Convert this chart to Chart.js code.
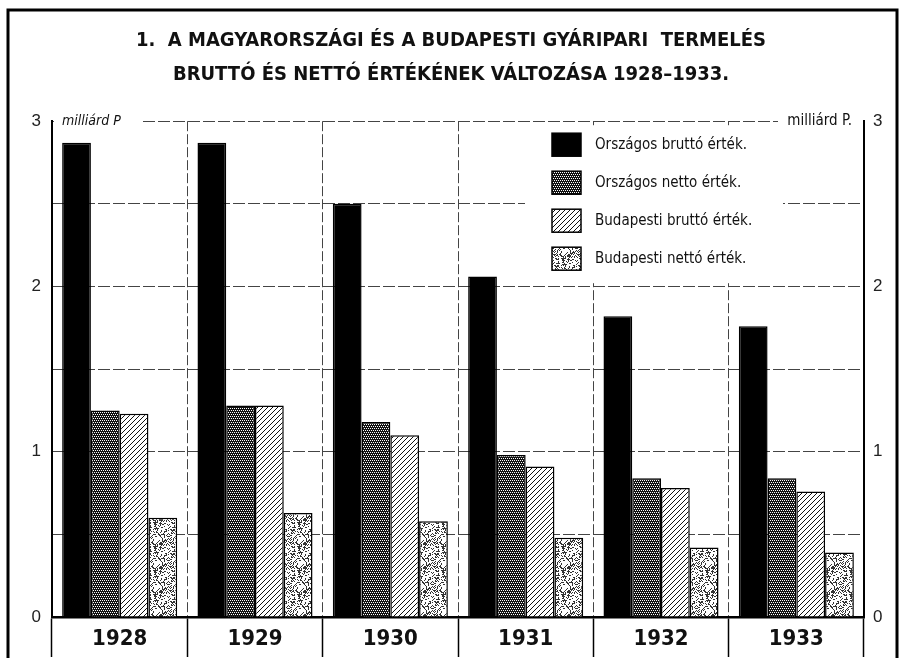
<!DOCTYPE html>
<html>
<head>
<meta charset="utf-8">
<script src="https://cdn.jsdelivr.net/npm/chart.js@4.4.1/dist/chart.umd.min.js"></script>
<style>
  html, body { margin: 0; padding: 0; background: #fff; }
</style>
</head>
<body>
<canvas id="termeles" width="902" height="658"></canvas>
<script>
// data (milliárd pengő)
const years = ["1928", "1929", "1930", "1931", "1932", "1933"];
const orszagosBrutto = [2.87, 2.87, 2.50, 2.06, 1.82, 1.76];
const orszagosNetto = [1.25, 1.28, 1.18, 0.98, 0.84, 0.84];
const budapestiBrutto = [1.23, 1.28, 1.10, 0.91, 0.78, 0.76];
const budapestiNetto = [0.60, 0.63, 0.58, 0.48, 0.42, 0.39];
const seriesNames = ["Országos bruttó érték.", "Országos netto érték.", "Budapesti bruttó érték.", "Budapesti nettó érték."];
const yTickLabels = [0, 1, 2, 3];

const narrow = '"Liberation Sans Narrow", "DejaVu Sans Condensed", "Arial Narrow", sans-serif';

function makePattern(size, paint) {
    const c = document.createElement("canvas");
    c.width = size;
    c.height = size;
    const g = c.getContext("2d");
    paint(g, size);
    return g.createPattern(c, "repeat");
}

// dark halftone (Országos netto)
const checker = makePattern(4, function (g) {
    g.fillStyle = "#111";
    g.fillRect(0, 0, 4, 4);
    g.fillStyle = "#fff";
    [[0, 0], [2, 0], [1, 2], [3, 2]].forEach(function (p) { g.fillRect(p[0], p[1], 1, 1); });
});

// diagonal lines (Budapesti bruttó)
const hatch = makePattern(5, function (g, s) {
    g.fillStyle = "#fff";
    g.fillRect(0, 0, s, s);
    g.strokeStyle = "#111";
    g.lineWidth = 1;
    g.beginPath();
    g.moveTo(0, s); g.lineTo(s, 0);
    g.moveTo(-1, 1); g.lineTo(1, -1);
    g.moveTo(s - 1, s + 1); g.lineTo(s + 1, s - 1);
    g.stroke();
});

// speckle (Budapesti nettó) - hashed pixel texture
const stipple = makePattern(24, function (g, s) {
    g.fillStyle = "#fff";
    g.fillRect(0, 0, s, s);
    g.fillStyle = "#333";
    for (let x = 0; x < s; x++) {
        for (let y = 0; y < s; y++) {
            const h = Math.abs(((x * 73856093) ^ (y * 19349663)) | 0) % 100;
            if (h < 34) g.fillRect(x, y, 1, 1);
        }
    }
});

const fills = ["#000", checker, hatch, stipple];
const seriesData = [orszagosBrutto, orszagosNetto, budapestiBrutto, budapestiNetto];

const decor = {
    id: "decor",
    beforeDraw(chart) {
        const ctx = chart.ctx;
        ctx.save();
        ctx.fillStyle = "#fff";
        ctx.fillRect(0, 0, chart.width, chart.height);
        ctx.strokeStyle = "#000";
        ctx.lineWidth = 3;
        ctx.strokeRect(8, 10, 889, 700);
        ctx.restore();
    },
    afterDraw(chart) {
        const ctx = chart.ctx;
        const a = chart.chartArea;
        ctx.save();

        // units at the top of both axes
        ctx.fillStyle = "#fff";
        ctx.fillRect(a.left + 2, a.top - 8, 86, 16);
        ctx.fillRect(a.right - 86, a.top - 8, 84, 16);
        ctx.fillStyle = "#111";
        ctx.textBaseline = "middle";
        ctx.font = "italic 14px " + narrow;
        ctx.textAlign = "left";
        ctx.fillText("milliárd P", a.left + 10, a.top);
        ctx.font = "15px " + narrow;
        ctx.textAlign = "right";
        ctx.fillText("milliárd P.", a.right - 12, a.top);

        // legend
        const lx = a.right - 312;
        const ly = a.top + 12;
        ctx.fillStyle = "#fff";
        ctx.fillRect(a.right - 339, a.top + 4, 258, 158);
        ctx.font = "15px " + narrow;
        ctx.textAlign = "left";
        chart.data.datasets.forEach(function (ds, i) {
            const y = ly + i * 38;
            ctx.fillStyle = ds.backgroundColor;
            ctx.fillRect(lx, y, 29, 23);
            ctx.strokeStyle = "#000";
            ctx.lineWidth = 1.5;
            ctx.strokeRect(lx, y, 29, 23);
            ctx.fillStyle = "#111";
            ctx.fillText(ds.label, lx + 43, y + 12);
        });
        ctx.restore();
    }
};

new Chart(document.getElementById("termeles"), {
    type: "bar",
    data: {
        labels: years,
        datasets: seriesNames.map(function (name, i) {
            return {
                label: name,
                data: seriesData[i],
                backgroundColor: fills[i],
                borderColor: "#000",
                borderWidth: 1.5,
                categoryPercentage: 0.85,
                barPercentage: 1.0,
                yAxisID: "y"
            };
        })
    },
    options: {
        responsive: false,
        animation: false,
        layout: { padding: 0 },
        plugins: {
            legend: { display: false },
            tooltip: { enabled: false },
            title: {
                display: true,
                text: ["1.  A MAGYARORSZÁGI ÉS A BUDAPESTI GYÁRIPARI  TERMELÉS", "BRUTTÓ ÉS NETTÓ ÉRTÉKÉNEK VÁLTOZÁSA 1928–1933."],
                color: "#111",
                font: { family: narrow, size: 20, weight: "bold", lineHeight: 1.73 },
                padding: { top: 23, bottom: 29 }
            }
        },
        scales: {
            x: {
                afterFit: function (s) { s.height = 41; },
                grid: {
                    color: function (c) { return (c.index === 0 || c.index === years.length) ? "rgba(0,0,0,0)" : "#444"; },
                    lineWidth: 1,
                    tickLength: 40,
                    tickColor: "#000",
                    tickWidth: 1.5
                },
                border: { color: "#000", width: 2.5, dash: [10, 3] },
                ticks: {
                    padding: -31,
                    color: "#111",
                    font: { family: narrow, size: 22, weight: "bold" }
                }
            },
            y: {
                position: "left",
                min: 0,
                max: 3,
                afterFit: function (s) { s.width = 52; },
                grid: { color: "#444", lineWidth: 1, drawTicks: false },
                border: { color: "#000", width: 2, dash: [12, 3] },
                ticks: {
                    stepSize: 0.5,
                    padding: 11,
                    color: "#222",
                    font: { family: '"Liberation Sans", sans-serif', size: 17 },
                    callback: function (v) { return yTickLabels.includes(v) ? String(v) : ""; }
                }
            },
            y2: {
                position: "right",
                min: 0,
                max: 3,
                afterFit: function (s) { s.width = 38; },
                grid: { drawOnChartArea: false, drawTicks: false },
                border: { color: "#000", width: 2 },
                ticks: {
                    stepSize: 0.5,
                    padding: 9,
                    color: "#222",
                    font: { family: '"Liberation Sans", sans-serif', size: 17 },
                    callback: function (v) { return yTickLabels.includes(v) ? String(v) : ""; }
                }
            }
        }
    },
    plugins: [decor]
});
</script>
</body>
</html>
